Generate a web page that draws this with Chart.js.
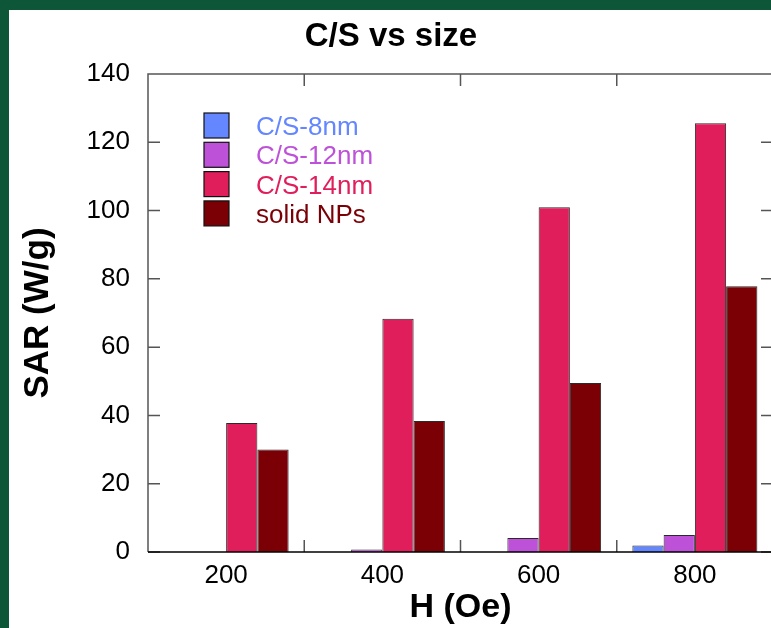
<!DOCTYPE html>
<html>
<head>
<meta charset="utf-8">
<script src="https://cdn.jsdelivr.net/npm/chart.js@4.4.1/dist/chart.umd.min.js"></script>
<style>
  html, body { margin: 0; padding: 0; overflow: hidden; background: #0e5638; width: 771px; height: 628px; }
  #wrap { position: absolute; left: 9px; top: 10px; width: 762px; height: 618px; background: #fff; overflow: hidden; }
  canvas { display: block; }
</style>
</head>
<body>
<div id="wrap"><canvas id="chart" width="770" height="618"></canvas></div>
<script>
// H field (Oe) and SAR (W/g) per sample
const fields = ["200", "400", "600", "800"];
const cs8 = [0, 0, 0, 1.9];
const cs12 = [0, 0.7, 4.1, 5.0];
const cs14 = [37.8, 68.3, 101, 125.6];
const solid = [30, 38.4, 49.5, 77.8];

const FONT = "'Liberation Sans', Arial, Helvetica, sans-serif";

// frame + inward ticks like the original plot
const frame = {
  id: "frame",
  afterDatasetsDraw(c) {
    const { ctx, chartArea: a, scales: { x, y } } = c;
    ctx.save();
    ctx.lineWidth = 1.5;
    ctx.strokeStyle = "#555";
    ctx.beginPath();
    ctx.moveTo(a.left, a.bottom);
    ctx.lineTo(a.left, a.top);
    ctx.lineTo(a.right, a.top);
    ctx.lineTo(a.right, a.bottom);
    y.ticks.forEach(t => {
      const py = y.getPixelForValue(t.value);
      ctx.moveTo(a.left, py); ctx.lineTo(a.left + 12, py);
      ctx.moveTo(a.right, py); ctx.lineTo(a.right - 12, py);
    });
    for (let i = 1; i < fields.length; i++) {
      const px = (x.getPixelForValue(i - 1) + x.getPixelForValue(i)) / 2;
      ctx.moveTo(px, a.bottom); ctx.lineTo(px, a.bottom - 12);
      ctx.moveTo(px, a.top); ctx.lineTo(px, a.top + 12);
    }
    ctx.stroke();
    ctx.strokeStyle = "#000";
    ctx.beginPath();
    ctx.moveTo(a.left, a.bottom);
    ctx.lineTo(a.right, a.bottom);
    ctx.stroke();
    ctx.restore();
  }
};

// legend drawn inside the plot, upper left
const insideLegend = {
  id: "insideLegend",
  afterDraw(c) {
    const { ctx, chartArea: a } = c;
    ctx.save();
    ctx.font = "26px " + FONT;
    ctx.textBaseline = "middle";
    c.data.datasets.forEach((ds, i) => {
      const bx = a.left + 56, by = a.top + 39 + i * 29.3;
      ctx.fillStyle = ds.backgroundColor;
      ctx.fillRect(bx, by, 25, 25);
      ctx.lineWidth = 1.2;
      ctx.strokeStyle = "#111";
      ctx.strokeRect(bx, by, 25, 25);
      ctx.fillStyle = ds.backgroundColor;
      ctx.fillText(ds.label, bx + 52, by + 15);
    });
    ctx.restore();
  }
};

const bar = (label, data, color) => ({
  label, data,
  backgroundColor: color,
  borderColor: "#2a2a2a",
  borderWidth: 1,
  borderSkipped: "start"
});

new Chart(document.getElementById("chart"), {
  type: "bar",
  data: {
    labels: fields,
    datasets: [
      bar("C/S-8nm", cs8, "#6486ff"),
      bar("C/S-12nm", cs12, "#bd52d9"),
      bar("C/S-14nm", cs14, "#e01e5b"),
      bar("solid NPs", solid, "#7b0005")
    ]
  },
  options: {
    responsive: false,
    animation: false,
    layout: { padding: { left: 0, right: 6, top: 0, bottom: 0 } },
    datasets: { bar: { categoryPercentage: 0.8, barPercentage: 1.0 } },
    plugins: {
      legend: { display: false },
      tooltip: { enabled: false },
      title: {
        display: true,
        text: "C/S vs size",
        color: "#000",
        font: { family: FONT, size: 33, weight: "bold" },
        padding: { top: 7, bottom: 17.4 }
      }
    },
    scales: {
      x: {
        offset: true,
        grid: { display: false, drawTicks: false },
        border: { display: false },
        ticks: { color: "#000", font: { family: FONT, size: 26 }, padding: 8 },
        title: {
          display: true, text: "H (Oe)", color: "#000",
          font: { family: FONT, size: 34, weight: "bold" },
          padding: { top: 0, bottom: 0 }
        },
        afterFit(s) { s.height = 76; }
      },
      y: {
        min: 0, max: 140,
        ticks: { stepSize: 20, color: "#000", font: { family: FONT, size: 26 }, padding: 18 },
        grid: { display: false, drawTicks: false },
        border: { display: false },
        title: {
          display: true, text: "SAR (W/g)", color: "#000",
          font: { family: FONT, size: 35, weight: "bold" },
          padding: { top: 8, bottom: 0 }
        },
        afterFit(s) { s.width = 139; }
      }
    }
  },
  plugins: [frame, insideLegend]
});
</script>
</body>
</html>
